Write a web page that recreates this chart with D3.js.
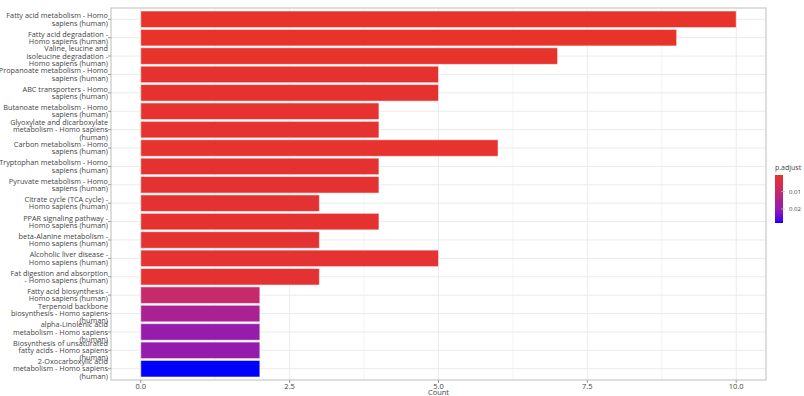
<!DOCTYPE html>
<html>
<head>
<meta charset="utf-8">
<script src="https://cdn.jsdelivr.net/npm/d3@7"></script>
<style>
  body { margin: 0; background: #fff; }
  text { font-family: "Open Sans", "DejaVu Sans", sans-serif; fill: #444; }
</style>
</head>
<body>
<div id="chart"></div>
<script>
// datos
const pathways = [
  "Fatty acid metabolism - Homo sapiens (human)",
  "Fatty acid degradation - Homo sapiens (human)",
  "Valine, leucine and isoleucine degradation - Homo sapiens (human)",
  "Propanoate metabolism - Homo sapiens (human)",
  "ABC transporters - Homo sapiens (human)",
  "Butanoate metabolism - Homo sapiens (human)",
  "Glyoxylate and dicarboxylate metabolism - Homo sapiens (human)",
  "Carbon metabolism - Homo sapiens (human)",
  "Tryptophan metabolism - Homo sapiens (human)",
  "Pyruvate metabolism - Homo sapiens (human)",
  "Citrate cycle (TCA cycle) - Homo sapiens (human)",
  "PPAR signaling pathway - Homo sapiens (human)",
  "beta-Alanine metabolism - Homo sapiens (human)",
  "Alcoholic liver disease - Homo sapiens (human)",
  "Fat digestion and absorption - Homo sapiens (human)",
  "Fatty acid biosynthesis - Homo sapiens (human)",
  "Terpenoid backbone biosynthesis - Homo sapiens (human)",
  "alpha-Linolenic acid metabolism - Homo sapiens (human)",
  "Biosynthesis of unsaturated fatty acids - Homo sapiens (human)",
  "2-Oxocarboxylic acid metabolism - Homo sapiens (human)"
]
const counts = [10, 9, 7, 5, 5, 4, 4, 6, 4, 4, 3, 4, 3, 5, 3, 2, 2, 2, 2, 2]
const pAdjust = [0.0005, 0.0006, 0.0007, 0.0010, 0.0010, 0.0012, 0.0012, 0.0009, 0.0013, 0.0013,
                 0.0016, 0.0014, 0.0016, 0.0015, 0.0016, 0.0100, 0.0150, 0.0192, 0.0196, 0.0280]
const xTicks = [0, 2.5, 5, 7.5, 10]
const legendTicks = [0.01, 0.02]

// colores del gradiente p.adjust (rojo -> azul)
const gradColors = ["#e8332a", "#c62a6a", "#aa2290", "#921cb0", "#0000ff"]
const gradStops = [0, 0.345, 0.527, 0.709, 1]

const width = 804
const height = 396
const panel = { left: 111, right: 766, top: 8, bottom: 380 }

const svg = d3.select("div#chart").append("svg")
  .attr("width", width).attr("height", height)

// escalas
const x = d3.scaleLinear().domain([-0.5, 10.5]).range([panel.left, panel.right])
const y = d3.scaleBand().domain(pathways).range([panel.top, panel.bottom])
  .paddingInner(0.1).paddingOuter(0.163)
const pMin = d3.min(pAdjust), pMax = d3.max(pAdjust)
const color = d3.scaleLinear()
  .domain(gradStops.map(t => pMin + t * (pMax - pMin)))
  .range(gradColors).interpolate(d3.interpolateLab)

// rejilla
const grid = svg.append("g")
const minor = xTicks.slice(0, -1).map(d => d + 1.25)
grid.selectAll("line.minor").data(minor).join("line")
  .attr("x1", d => x(d)).attr("x2", d => x(d))
  .attr("y1", panel.top).attr("y2", panel.bottom)
  .attr("stroke", "#f3f3f3").attr("stroke-width", 1)
grid.selectAll("line.major").data(xTicks).join("line")
  .attr("x1", d => x(d)).attr("x2", d => x(d))
  .attr("y1", panel.top).attr("y2", panel.bottom)
  .attr("stroke", "#ebebeb").attr("stroke-width", 1)
grid.selectAll("line.h").data(pathways).join("line")
  .attr("x1", panel.left).attr("x2", panel.right)
  .attr("y1", d => y(d) + y.bandwidth() / 2).attr("y2", d => y(d) + y.bandwidth() / 2)
  .attr("stroke", "#ebebeb").attr("stroke-width", 1)

// barras
svg.append("g").selectAll("rect").data(pathways).join("rect")
  .attr("x", x(0))
  .attr("y", d => y(d))
  .attr("width", (d, i) => x(counts[i]) - x(0))
  .attr("height", y.bandwidth())
  .attr("fill", (d, i) => color(pAdjust[i]))
  .attr("stroke", "rgba(255,255,255,0.55)")
  .attr("stroke-width", 1)

// marco
svg.append("rect")
  .attr("x", panel.left).attr("y", panel.top)
  .attr("width", panel.right - panel.left).attr("height", panel.bottom - panel.top)
  .attr("fill", "none").attr("stroke", "#c8c8c8").attr("stroke-width", 1.2)

// eje x
const xAxis = svg.append("g")
xAxis.selectAll("line").data(xTicks).join("line")
  .attr("x1", d => x(d)).attr("x2", d => x(d))
  .attr("y1", panel.bottom).attr("y2", panel.bottom + 3)
  .attr("stroke", "#999")
xAxis.selectAll("text").data(xTicks).join("text")
  .attr("x", d => x(d)).attr("y", panel.bottom + 9)
  .attr("text-anchor", "middle").attr("font-size", 7.5)
  .text(d => d3.format(".1f")(d))
svg.append("text")
  .attr("x", (panel.left + panel.right) / 2).attr("y", 395)
  .attr("text-anchor", "middle").attr("font-size", 7.5)
  .text("Count")

// eje y con etiquetas partidas (ancho 28)
function wrap(s, w) {
  const words = s.split(" ")
  const lines = []
  let cur = ""
  words.forEach(wd => {
    if (cur === "") cur = wd
    else if ((cur + " " + wd).length <= w) cur += " " + wd
    else { lines.push(cur); cur = wd }
  })
  if (cur) lines.push(cur)
  return lines
}
const lineH = 7.3
const yAxis = svg.append("g")
yAxis.selectAll("line").data(pathways).join("line")
  .attr("x1", panel.left - 3).attr("x2", panel.left)
  .attr("y1", d => y(d) + y.bandwidth() / 2).attr("y2", d => y(d) + y.bandwidth() / 2)
  .attr("stroke", "#999")
yAxis.selectAll("text").data(pathways).join("text")
  .attr("text-anchor", "end").attr("font-size", 7.3)
  .each(function (d) {
    const lines = wrap(d, 28)
    const cy = y(d) + y.bandwidth() / 2
    const t = d3.select(this)
    lines.forEach((ln, i) => {
      t.append("tspan")
        .attr("x", panel.left - 3)
        .attr("y", cy + (i - (lines.length - 1) / 2) * lineH + 2.6)
        .text(ln)
    })
  })

// leyenda
const lg = { x: 775, w: 8, top: 175, bottom: 223 }
const ly = d3.scaleLinear().domain([pMin, pMax]).range([lg.top, lg.bottom])
const grad = svg.append("defs").append("linearGradient")
  .attr("id", "pgrad").attr("x1", 0).attr("x2", 0).attr("y1", 0).attr("y2", 1)
d3.range(0, 1.0001, 0.05).forEach(t => {
  grad.append("stop").attr("offset", t).attr("stop-color", color(pMin + t * (pMax - pMin)))
})
svg.append("text").attr("x", lg.x).attr("y", 170).attr("font-size", 7).text("p.adjust")
svg.append("rect")
  .attr("x", lg.x).attr("y", lg.top).attr("width", lg.w).attr("height", lg.bottom - lg.top)
  .attr("fill", "url(#pgrad)")
svg.append("g").selectAll("line").data(legendTicks).join("line")
  .attr("x1", lg.x + lg.w - 2).attr("x2", lg.x + lg.w + 2)
  .attr("y1", d => ly(d)).attr("y2", d => ly(d))
  .attr("stroke", "#bbb").attr("stroke-width", 0.8)
svg.append("g").selectAll("text").data(legendTicks).join("text")
  .attr("x", lg.x + lg.w + 6).attr("y", d => ly(d) + 2.2)
  .attr("font-size", 6).text(d => d3.format(".2f")(d))
</script>
</body>
</html>
